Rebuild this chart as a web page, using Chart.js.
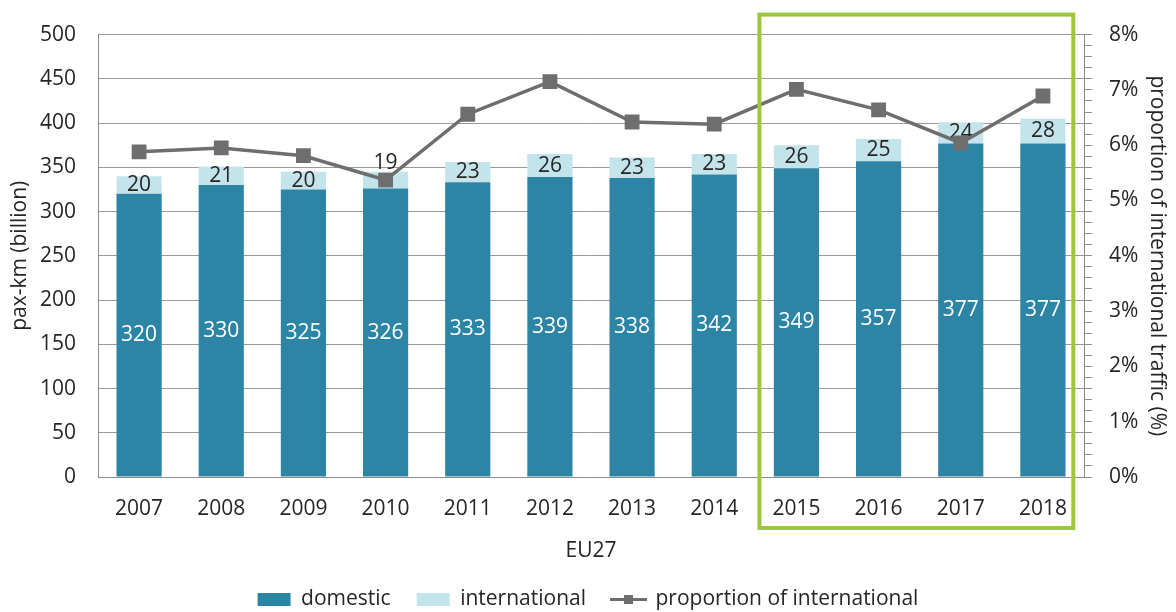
<!DOCTYPE html>
<html>
<head>
<meta charset="utf-8">
<script src="https://cdn.jsdelivr.net/npm/chart.js@4"></script>
<style>
  html, body { margin: 0; padding: 0; background: #ffffff; }
</style>
</head>
<body>
<canvas id="paxChart" width="1176" height="612"></canvas>
<script>
// Dados do gráfico
const years = ["2007", "2008", "2009", "2010", "2011", "2012", "2013", "2014", "2015", "2016", "2017", "2018"];
const domestic = [320, 330, 325, 326, 333, 339, 338, 342, 349, 357, 377, 377];
const international = [20, 21, 20, 19, 23, 26, 23, 23, 26, 25, 24, 28];
const shareInternational = [5.88, 5.95, 5.81, 5.37, 6.56, 7.15, 6.42, 6.38, 7.01, 6.64, 6.04, 6.89];
const highlightYears = ["2015", "2018"];

const FONT = "'Open Sans', 'Noto Sans', sans-serif";
const TEXT = "#262626";
const AXIS = "#8c8c8c";

// ícone da legenda para a linha (traço com quadrado)
const lineIcon = document.createElement("canvas");
lineIcon.width = 37;
lineIcon.height = 13;
(function () {
  const c = lineIcon.getContext("2d");
  c.strokeStyle = "#6e6e6e";
  c.lineWidth = 3;
  c.beginPath();
  c.moveTo(0, 6.5);
  c.lineTo(37, 6.5);
  c.stroke();
  c.fillStyle = "#6e6e6e";
  c.fillRect(14, 2, 9, 9);
})();

// rótulos de valor nas barras
const barLabels = {
  id: "barLabels",
  afterDatasetDraw(chart, args) {
    if (args.index > 1) return;
    const ctx = chart.ctx;
    const lineMeta = chart.getDatasetMeta(2);
    ctx.save();
    ctx.font = "21px " + FONT;
    ctx.textAlign = "center";
    ctx.textBaseline = "middle";
    args.meta.data.forEach((bar, i) => {
      const mid = (bar.y + bar.base) / 2;
      if (args.index === 0) {
        ctx.fillStyle = "#ffffff";
        ctx.fillText(domestic[i], bar.x, mid);
      } else {
        let y = mid;
        const pt = lineMeta.data[i];
        if (pt && Math.abs(pt.y - mid) < 8) y = bar.y - 9;
        ctx.fillStyle = TEXT;
        ctx.fillText(international[i], bar.x, y);
      }
    });
    ctx.restore();
  }
};

// moldura verde em volta de 2015-2018
const focusFrame = {
  id: "focusFrame",
  afterDraw(chart) {
    const { ctx, chartArea, scales } = chart;
    const x = scales.x;
    const i0 = years.indexOf(highlightYears[0]);
    const i1 = years.indexOf(highlightYears[1]);
    const cw = x.getPixelForValue(1) - x.getPixelForValue(0);
    const left = x.getPixelForValue(i0) - 0.45 * cw;
    const right = x.getPixelForValue(i1) + 0.37 * cw;
    const top = chartArea.top - 20;
    const bottom = chartArea.bottom + 51;
    ctx.save();
    ctx.strokeStyle = "#9bc83b";
    ctx.lineWidth = 4;
    ctx.strokeRect(left, top, right - left, bottom - top);
    ctx.restore();
  }
};

const ctx = document.getElementById("paxChart").getContext("2d");

new Chart(ctx, {
  type: "bar",
  data: {
    labels: years,
    datasets: [
      {
        label: "domestic",
        data: domestic,
        backgroundColor: "#2c85a5",
        borderWidth: 0,
        barPercentage: 0.55,
        categoryPercentage: 1,
        yAxisID: "y",
        order: 1
      },
      {
        label: "international",
        data: international,
        backgroundColor: "#c4e4ec",
        borderWidth: 0,
        barPercentage: 0.55,
        categoryPercentage: 1,
        yAxisID: "y",
        order: 1
      },
      {
        type: "line",
        label: "proportion of international",
        data: shareInternational,
        borderColor: "#6e6e6e",
        backgroundColor: "#6e6e6e",
        borderWidth: 3.5,
        pointStyle: "rect",
        pointRadius: 8,
        pointHoverRadius: 8,
        tension: 0,
        fill: false,
        yAxisID: "y1",
        order: 0
      }
    ]
  },
  options: {
    responsive: false,
    animation: false,
    devicePixelRatio: 1,
    layout: { padding: { top: 28, left: 0, right: 0, bottom: 0 } },
    plugins: {
      tooltip: { enabled: false },
      legend: {
        position: "bottom",
        maxHeight: 49,
        labels: {
          font: { family: FONT, size: 21 },
          color: TEXT,
          usePointStyle: true,
          pointStyleWidth: 33,
          boxHeight: 13,
          padding: 26,
          sort: (a, b) => a.datasetIndex - b.datasetIndex,
          generateLabels(chart) {
            const items = Chart.defaults.plugins.legend.labels.generateLabels(chart);
            items.forEach((it) => {
              it.pointStyle = it.datasetIndex === 2 ? lineIcon : "rect";
              it.lineWidth = 0;
            });
            return items;
          }
        }
      }
    },
    scales: {
      x: {
        stacked: true,
        grid: { display: false, drawTicks: false },
        border: { display: true, color: AXIS, width: 1 },
        ticks: { font: { family: FONT, size: 21 }, color: TEXT, padding: 19 },
        title: {
          display: true,
          text: "EU27",
          font: { family: FONT, size: 21 },
          color: TEXT,
          padding: { top: 0, bottom: -1 }
        },
        afterFit(scale) { scale.height = 86; }
      },
      y: {
        stacked: true,
        position: "left",
        min: 0,
        max: 500,
        ticks: { stepSize: 50, font: { family: FONT, size: 21 }, color: TEXT, padding: 22 },
        grid: { color: "#999999", lineWidth: 1, drawTicks: false },
        border: { display: true, color: AXIS, width: 1 },
        title: {
          display: true,
          text: "pax-km (billion)",
          font: { family: FONT, size: 21 },
          color: TEXT,
          padding: { top: 7, bottom: 0 }
        },
        afterFit(scale) { scale.width = 98; }
      },
      y1: {
        position: "right",
        min: 0,
        max: 8,
        ticks: {
          stepSize: 0.2,
          maxTicksLimit: 60,
          autoSkip: false,
          font: { family: FONT, size: 21 },
          color: TEXT,
          padding: 17,
          callback: (v) => (Math.abs(v - Math.round(v)) < 1e-6 ? Math.round(v) + "%" : "")
        },
        grid: { drawOnChartArea: false, drawTicks: true, tickLength: 8, color: AXIS },
        border: { display: true, color: AXIS, width: 1 },
        title: {
          display: true,
          text: "proportion of international traffic (%)",
          font: { family: FONT, size: 21 },
          color: TEXT,
          padding: { top: 6, bottom: 0 }
        },
        afterFit(scale) { scale.width = 92; }
      }
    }
  },
  plugins: [barLabels, focusFrame]
});
</script>
</body>
</html>
